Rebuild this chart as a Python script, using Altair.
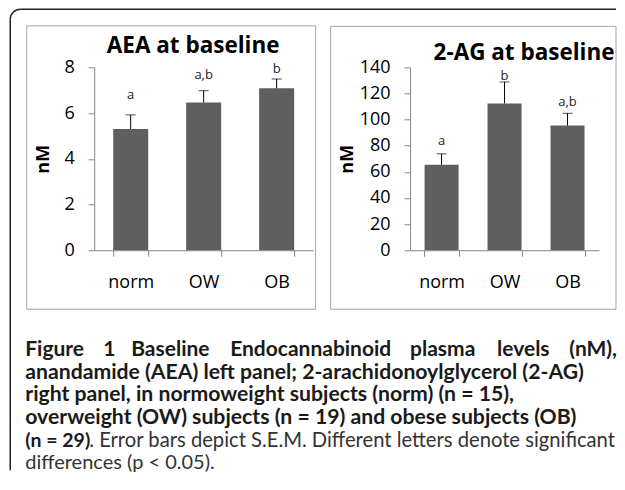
import math
import altair as alt
import pandas as pd

# ---------------- data ----------------
groups = ["norm", "OW", "OB"]

aea_mean = [5.30, 6.46, 7.08]
aea_sem = [0.62, 0.52, 0.41]
aea_letters = ["a", "a,b", "b"]
aea_letter_y = [6.78, 7.65, 7.92]
aea_ticks = [0, 2, 4, 6, 8]

ag_mean = [65.4, 112.4, 95.4]
ag_sem = [8.4, 16.4, 9.4]
ag_letters = ["a", "b", "a,b"]
ag_letter_y = [83.7, 133.0, 113.4]
ag_ticks = [0, 20, 40, 60, 80, 100, 120, 140]

title_left = "AEA at baseline"
title_right = "2-AG at baseline"
y_title = "nM"

cap_line1 = ["Figure", "1", "Baseline", "Endocannabinoid", "plasma", "levels", "(nM),"]
cap_line2 = "anandamide (AEA) left panel; 2-arachidonoylglycerol (2-AG)"
cap_line3 = "right panel, in normoweight subjects (norm) (n = 15),"
cap_line4 = "overweight (OW) subjects (n = 19) and obese subjects (OB)"
cap_line5_bold = "(n = 29)"
cap_line5_reg = ". Error bars depict S.E.M. Different letters denote significant"
cap_line6 = "differences (p < 0.05)."

CHART_FONT = "Open Sans"
CAP_FONT = "Lato"
BAR = "#5f5f5f"
AXIS = "#868686"
BOX = "#a6a6a6"
FRAME = "#222222"
TXT = "#1a1a1a"

one = pd.DataFrame({"k": [0]})


def txt(s, x, y, size, weight="normal", align="left", font=CAP_FONT, color=TXT, baseline="middle"):
    return alt.Chart(one).mark_text(
        font=font, fontSize=size, fontWeight=weight, align=align,
        baseline=baseline, color=color
    ).encode(x=alt.value(x), y=alt.value(y), text=alt.value(s))


def box(x, x2, y, y2):
    return alt.Chart(one).mark_rect(
        fill="transparent", stroke=BOX, strokeWidth=1
    ).encode(x=alt.value(x), x2=alt.value(x2), y=alt.value(y), y2=alt.value(y2))


def panel(mean, sem, letters, letter_y, ymax, ticks, W, H, pad_inner, title_x):
    df = pd.DataFrame({
        "group": groups,
        "mean": mean,
        "top": [m + s for m, s in zip(mean, sem)],
        "letter": letters,
        "ly": letter_y,
    })
    xscale = alt.Scale(domain=groups, paddingInner=pad_inner, paddingOuter=pad_inner / 2)
    xaxis = alt.Axis(
        title=None, labelAngle=0, tickBand="extent", domainColor=AXIS, tickColor=AXIS,
        tickSize=6, labelFont=CHART_FONT, labelFontSize=18, labelColor="#000",
        labelPadding=17, grid=False,
    )
    yscale = alt.Scale(domain=[0, ymax], nice=False, zero=True)
    yaxis = alt.Axis(
        values=ticks, tickCount=len(ticks), title=y_title, titleFont=CHART_FONT,
        titleFontSize=18, titleFontWeight="bold", titleColor="#000", titleAngle=270,
        titleX=title_x, titleY=H / 2, titleAlign="center", titleBaseline="middle",
        domainColor=AXIS, tickColor=AXIS, tickSize=6, labelFont=CHART_FONT,
        labelFontSize=18, labelColor="#000", labelPadding=14, grid=False,
        labelOverlap=False,
    )
    base = alt.Chart(df)
    x = alt.X("group:N", scale=xscale, axis=xaxis, sort=groups)
    bars = base.mark_bar(color=BAR).encode(
        x=x, y=alt.Y("mean:Q", scale=yscale, axis=yaxis)
    )
    rule = base.mark_rule(color="#000", strokeWidth=1).encode(
        x=alt.X("group:N", sort=groups), y="mean:Q", y2="top:Q"
    )
    cap = base.mark_tick(color="#000", size=10, thickness=1).encode(
        x=alt.X("group:N", sort=groups), y="top:Q"
    )
    lab = base.mark_text(font=CHART_FONT, fontSize=13, color="#222", baseline="middle").encode(
        x=alt.X("group:N", sort=groups), y="ly:Q", text="letter:N"
    )
    return [bars, rule, cap, lab]


# Left panel (plot-area origin near page (94, 67))
LW, LH = 219, 183
left_layers = panel(aea_mean, aea_sem, aea_letters, aea_letter_y, 8, aea_ticks, LW, LH, 0.52, -51)
left_extra = [
    box(-67.5, 221.5, -41.5, 242),
    txt(title_left, 99, -21, 22.5, "bold", "center", CHART_FONT, "#000"),
    # outer frame
    alt.Chart(one).mark_rule(color=FRAME, strokeWidth=1.5).encode(
        x=alt.value(-74), x2=alt.value(522), y=alt.value(-58)),
    alt.Chart(one).mark_rule(color=FRAME, strokeWidth=1.5).encode(
        x=alt.value(-84), y=alt.value(-48), y2=alt.value(403)),
    alt.Chart(one).mark_arc(theta=3 * math.pi / 2, theta2=2 * math.pi,
                            radius=10.75, radius2=9.25, color=FRAME).encode(
        x=alt.value(-74), y=alt.value(-48)),
]

# caption (coordinates relative to the left plot area)
CX = -69
line_y = [283, 306, 328, 351, 374, 396]
cap_layers = []
l1_x = [CX, 9, 37, 136, 316, 403, 523]
l1_align = ["left", "left", "left", "left", "left", "left", "right"]
for w, xx, al in zip(cap_line1, l1_x, l1_align):
    cap_layers.append(txt(w, xx, line_y[0], 21, "bold", al))
cap_layers.append(txt(cap_line2, CX, line_y[1], 21.2, "bold"))
cap_layers.append(txt(cap_line3, CX, line_y[2], 21.2, "bold"))
cap_layers.append(txt(cap_line4, CX, line_y[3], 21.2, "bold"))
cap_layers.append(txt(cap_line5_bold, CX, line_y[4], 19.5, "bold"))
cap_layers.append(txt(cap_line5_reg, -5, line_y[4], 20.2, "normal", "left", color="#333"))
cap_layers.append(txt(cap_line6, CX, line_y[5], 20, "normal", color="#333"))

left = alt.layer(*left_layers, *left_extra, *cap_layers).properties(width=LW, height=LH)

# Right panel
RW, RH = 189, 183
right_layers = panel(ag_mean, ag_sem, ag_letters, ag_letter_y, 140, ag_ticks, RW, RH, 0.46, -63)
right_extra = [
    box(-79.5, 206, -41, 242),
    txt(title_right, 114, -14, 22.5, "bold", "center", CHART_FONT, "#000"),
]
right = alt.layer(*right_layers, *right_extra).properties(width=RW, height=RH)

chart = alt.hconcat(left, right, spacing=97, bounds="flush").resolve_scale(
    x="independent", y="independent"
).properties(
    padding={"left": 1.25, "top": 0.25, "right": 0, "bottom": 0}
).configure_view(stroke=None)

chart.save("out.html", embed_options={"renderer": "svg", "actions": False})
